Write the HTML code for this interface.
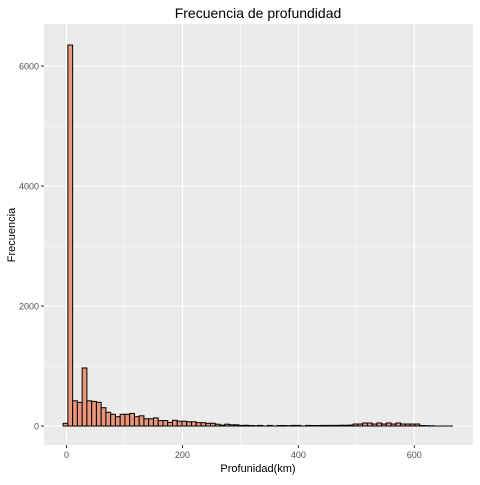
<!DOCTYPE html>
<html><head><meta charset="utf-8"><style>
body{margin:0;background:#fff}
svg text{font-family:"Liberation Sans",sans-serif}
</style></head><body>
<svg id="chart" width="480" height="480">
<rect x="0" y="0" width="480" height="480" fill="#fff"/>
<rect id="panel" x="44" y="24" width="429" height="421" fill="#ebebeb"/>
<g id="grid"></g>
<g id="bars"></g>
<g id="axes"></g>
<text x="258" y="18" text-anchor="middle" font-size="14" fill="#000">Frecuencia de profundidad</text>
<text x="258" y="472" text-anchor="middle" font-size="11" fill="#000">Profunidad(km)</text>
<text x="15" y="235" text-anchor="middle" font-size="11" fill="#000" transform="rotate(-90 15 235)">Frecuencia</text>
</svg>
<script>
const binStart = -5.8;
const binWidth = 8.2;
const counts = [45,6350,420,395,967,420,410,395,305,228,195,155,195,195,210,155,170,120,120,135,90,90,60,95,80,80,
70,70,55,55,45,45,30,15,30,20,20,10,12,8,
5,10,0,10,0,8,8,5,10,10,0,10,8,8,10,10,10,10,12,12,15,
33,33,50,50,33,50,33,50,33,50,33,33,33,33,
8,5,3,0,0,0,0];
const xTicks = [0,200,400,600];
const xMinor = [100,300,500];
const yTicks = [0,2000,4000,6000];
const yMinor = [1000,3000,5000];
const NS='http://www.w3.org/2000/svg';
const X = v => 66.5 + v*0.5797;
const Y = v => 426 - v*0.06;
const px0=44, px1=473, py0=24, py1=445;
function mk(tag, attrs, parent){const e=document.createElementNS(NS,tag);for(const k in attrs)e.setAttribute(k,attrs[k]);parent.appendChild(e);return e;}
const grid=document.getElementById('grid'), bars=document.getElementById('bars'), axes=document.getElementById('axes');
yMinor.forEach(v=>{const l=mk('line',{x1:px0,x2:px1,y1:Y(v),y2:Y(v),stroke:'#fff','stroke-width':0.5},grid);

});
xMinor.forEach(v=>{const l=mk('line',{x1:X(v),x2:X(v),y1:py0,y2:py1,stroke:'#fff','stroke-width':0.5},grid);

});
yTicks.forEach(v=>{const l=mk('line',{x1:px0,x2:px1,y1:Y(v),y2:Y(v),stroke:'#fff','stroke-width':1.1},grid);


mk('line',{x1:px0-3,x2:px0,y1:Y(v),y2:Y(v),stroke:'#333','stroke-width':1},axes);
const t=mk('text',{x:px0-5,y:Y(v)+3.5,'text-anchor':'end','font-size':9,fill:'#4d4d4d'},axes);t.textContent=v;

});
xTicks.forEach(v=>{const l=mk('line',{x1:X(v),x2:X(v),y1:py0,y2:py1,stroke:'#fff','stroke-width':1.1},grid);


mk('line',{x1:X(v),x2:X(v),y1:py1,y2:py1+3,stroke:'#333','stroke-width':1},axes);
const t=mk('text',{x:X(v),y:py1+13,'text-anchor':'middle','font-size':9,fill:'#4d4d4d'},axes);t.textContent=v;

});
counts.forEach((c,i)=>{const a=X(binStart+i*binWidth), b=X(binStart+(i+1)*binWidth);
if(c>0){
const r=mk('rect',{x:a,y:Y(c),width:b-a,height:Y(0)-Y(c),fill:'#e9967a',stroke:'#000','stroke-width':1},bars);


}else{
const z=mk('line',{x1:a,x2:b,y1:Y(0),y2:Y(0),stroke:'#000','stroke-width':1},bars);


}});
</script>
</body></html>
